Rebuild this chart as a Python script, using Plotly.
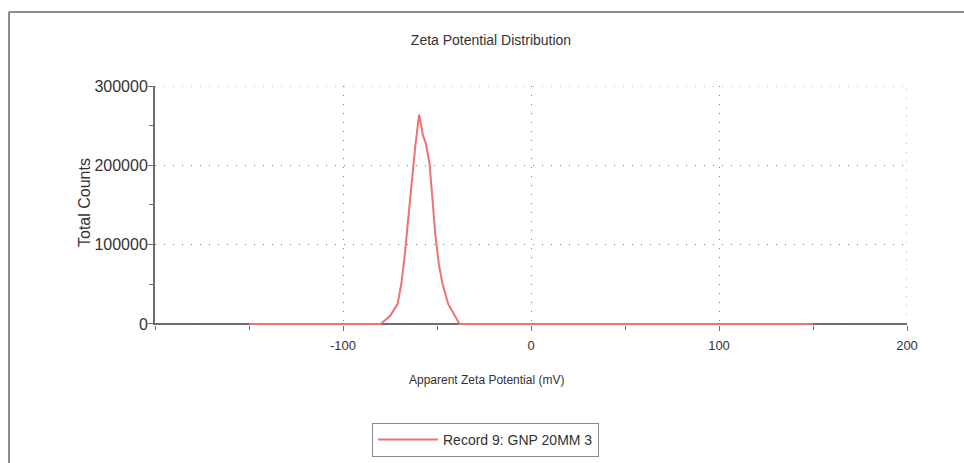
import plotly.graph_objects as go

# Zeta potential distribution for one measurement record
zeta_mv = [-150, -80, -75, -71, -69, -67, -65, -63, -61.5, -59.5, -58.5, -57.5,
           -56, -54, -52.5, -51, -49, -47, -44, -40, -38, 150]
total_counts = [0, 0, 10000, 25000, 50000, 90000, 140000, 190000, 225000, 264000,
                252000, 238000, 228000, 203000, 160000, 115000, 75000, 50000,
                25000, 8000, 0, 0]
series_name = "Record 9: GNP 20MM 3"

x_ticks = [-100, 0, 100, 200]
x_ticktext = ["-100", "0", "100", "200"]
y_ticks = [0, 100000, 200000, 300000]
x_range = [-200, 200]
# small headroom below zero so the baseline trace is not cut in half
y_range = [-1300, 300000]

FONT = "Liberation Sans, Arial, sans-serif"
TEXT = "#333333"
AXIS = "#6e6e6e"
GRID = "#7a7a7a"
DOTS = "1px,8px"

W, H = 964, 463
L, R, T, B = 155, 57, 86, 138
PW, PH = W - L - R, H - T - B


def px_x(px):
    return (px - L) / PW


def px_y(py):
    return (H - B - py) / PH


fig = go.Figure()
fig.add_trace(go.Scatter(
    x=zeta_mv, y=total_counts, mode="lines", name=series_name,
    line=dict(color="#ef7272", width=2),
))

fig.update_layout(
    width=W, height=H,
    margin=dict(l=L, r=R, t=T, b=B, autoexpand=False),
    paper_bgcolor="white", plot_bgcolor="white",
    font=dict(family=FONT, color=TEXT, size=14),
    title=dict(text="Zeta Potential Distribution", x=491 / W, xanchor="center",
               xref="container", y=1 - 40 / H, yref="container", yanchor="middle",
               font=dict(size=14, family=FONT, color=TEXT)),
    showlegend=True,
    legend=dict(x=px_x(372), xanchor="left", y=px_y(423), yanchor="top",
                bordercolor="#8a8a8a", borderwidth=1, bgcolor="white",
                font=dict(size=14, family=FONT, color=TEXT), itemwidth=60),
    xaxis=dict(
        range=x_range, tickvals=x_ticks, ticktext=x_ticktext, ticks="outside",
        ticklen=5, tickwidth=1, tickcolor=AXIS, showline=False,
        showgrid=True, gridcolor=GRID, gridwidth=1, griddash=DOTS,
        zeroline=False, layer="below traces", ticklabelstandoff=3,
        minor=dict(dtick=50, tick0=0, ticks="outside", ticklen=4, tickcolor=AXIS, showgrid=False),
        tickfont=dict(size=13, family=FONT, color=TEXT),
    ),
    yaxis=dict(
        range=y_range, tickvals=y_ticks, tickformat="d", ticks="outside", ticklen=5,
        tickwidth=1, tickcolor=AXIS, showline=True, linecolor=AXIS, linewidth=2,
        showgrid=True, gridcolor=GRID, gridwidth=1, griddash=DOTS,
        zeroline=False, layer="below traces", ticklabelstandoff=-3,
        minor=dict(dtick=50000, tick0=0, ticks="outside", ticklen=4, tickcolor=AXIS, showgrid=False),
        tickfont=dict(size=16, family=FONT, color=TEXT),
    ),
)

# Baseline along zero, drawn beneath the trace
fig.add_shape(type="line", xref="x", yref="y", x0=x_range[0], x1=x_range[1],
              y0=0, y1=0, layer="below", line=dict(color=AXIS, width=2))

# Axis titles
fig.add_annotation(text="Apparent Zeta Potential (mV)", xref="paper", yref="paper",
                   x=px_x(486), y=px_y(380), xanchor="center", yanchor="middle",
                   showarrow=False, font=dict(size=12, family=FONT, color=TEXT))
fig.add_annotation(text="Total Counts", xref="paper", yref="paper",
                   x=px_x(84), y=px_y(203), xanchor="center", yanchor="middle",
                   textangle=-90, showarrow=False,
                   font=dict(size=16, family=FONT, color=TEXT))

# Dotted grid along the top and right edges of the plot area
fig.add_shape(type="line", xref="x", yref="y", x0=x_range[0], x1=x_range[1],
              y0=y_ticks[-1], y1=y_ticks[-1], line=dict(color=GRID, width=1, dash=DOTS))
fig.add_shape(type="line", xref="x", yref="y", x0=x_ticks[-1], x1=x_ticks[-1],
              y0=0, y1=y_ticks[-1], line=dict(color=GRID, width=1, dash=DOTS))

# Frame around the chart window (top and left edges)
fig.add_shape(type="line", xref="paper", yref="paper",
              x0=px_x(9), x1=px_x(970), y0=px_y(12), y1=px_y(12),
              line=dict(color="#8c8c8c", width=2))
fig.add_shape(type="line", xref="paper", yref="paper",
              x0=px_x(9), x1=px_x(9), y0=px_y(12), y1=px_y(470),
              line=dict(color="#8c8c8c", width=2))

fig.write_html("out.html")
